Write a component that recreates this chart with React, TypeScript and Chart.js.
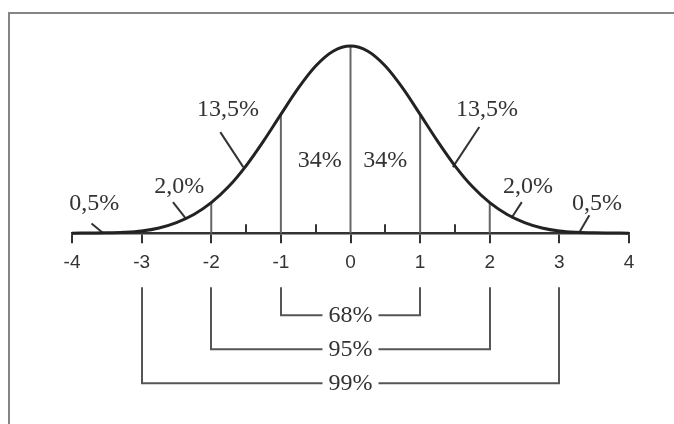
import React, { useEffect, useRef } from "react";
import { Chart, registerables } from "chart.js";

Chart.register(...registerables);

// Curve of the (normal) distribution: x in σ, height relative to peak
const curveX = [
  -4, -3.75, -3.5, -3.25, -3, -2.75, -2.5, -2.25, -2, -1.75, -1.5, -1.25, -1, -0.75, -0.5, -0.25,
  0, 0.25, 0.5, 0.75, 1, 1.25, 1.5, 1.75, 2, 2.25, 2.5, 2.75, 3, 3.25, 3.5, 3.75, 4,
];
const curveY = [
  0, 0.001, 0.002, 0.005, 0.012, 0.028, 0.057, 0.1, 0.163, 0.249, 0.36, 0.492, 0.635, 0.775, 0.893, 0.972,
  1, 0.972, 0.893, 0.775, 0.635, 0.492, 0.36, 0.249, 0.163, 0.1, 0.057, 0.028, 0.012, 0.005, 0.002, 0.001, 0,
];

// Vertical divider lines under the curve
const dividerX = [-2, -1, 0, 1, 2];

// Axis ticks
const tickValues = [-4, -3, -2, -1, 0, 1, 2, 3, 4];
const tickLabels = ["-4", "-3", "-2", "-1", "0", "1", "2", "3", "4"];
const minorTickX = [-1.5, -0.5, 0.5, 1.5];

// Area percentage labels (centre, in data units)
const areaLabels = ["0,5%", "2,0%", "13,5%", "34%", "34%", "13,5%", "2,0%", "0,5%"];
const areaLabelX = [-3.68, -2.46, -1.76, -0.44, 0.5, 1.96, 2.55, 3.54];
const areaLabelY = [0.155, 0.251, 0.658, 0.385, 0.385, 0.658, 0.246, 0.16];

// Leader lines from labels to the curve
const leaderFromX = [-3.72, -2.55, -1.87, 1.85, 2.46, 3.43];
const leaderFromY = [0.052, 0.166, 0.54, 0.567, 0.166, 0.096];
const leaderToX = [-3.55, -2.37, -1.54, 1.47, 2.31, 3.28];
const leaderToY = [0, 0.08, 0.353, 0.353, 0.08, 0];

// Interval brackets under the axis
const intervalLabels = ["68%", "95%", "99%"];
const intervalHalfWidth = [1, 2, 3];

const SERIF = '"Liberation Serif", "Times New Roman", serif';
const SANS = '"Liberation Sans", Arial, sans-serif';

const heightAt = (x: number) => curveY[curveX.indexOf(x)];

const decorPlugin = {
  id: "decor",
  beforeDraw(chart: any) {
    const ctx = chart.ctx;
    ctx.save();
    ctx.strokeStyle = "#858585";
    ctx.lineWidth = 2;
    ctx.beginPath();
    ctx.moveTo(9, chart.height);
    ctx.lineTo(9, 13);
    ctx.lineTo(chart.width, 13);
    ctx.stroke();
    ctx.restore();
  },
  afterDatasetsDraw(chart: any) {
    const ctx = chart.ctx;
    const xs = chart.scales.x;
    const ys = chart.scales.y;
    const y0 = ys.getPixelForValue(0);
    ctx.save();
    // minor ticks (upwards)
    ctx.strokeStyle = "#333";
    ctx.lineWidth = 2;
    ctx.beginPath();
    minorTickX.forEach((v) => {
      const px = Math.round(xs.getPixelForValue(v));
      ctx.moveTo(px, y0);
      ctx.lineTo(px, y0 - 9);
    });
    ctx.stroke();

    // area labels
    ctx.fillStyle = "#333";
    ctx.font = `24px ${SERIF}`;
    ctx.textAlign = "center";
    ctx.textBaseline = "middle";
    areaLabels.forEach((t, i) => {
      ctx.fillText(t, xs.getPixelForValue(areaLabelX[i]), ys.getPixelForValue(areaLabelY[i]));
    });

    // interval brackets
    const top = y0 + 54;
    const rowY = [y0 + 82, y0 + 116, y0 + 150];
    const cx = xs.getPixelForValue(0);
    ctx.strokeStyle = "#555";
    ctx.lineWidth = 2;
    intervalLabels.forEach((t, i) => {
      const l = Math.round(xs.getPixelForValue(-intervalHalfWidth[i]));
      const r = Math.round(xs.getPixelForValue(intervalHalfWidth[i]));
      const y = rowY[i];
      const tw = ctx.measureText(t).width;
      ctx.beginPath();
      ctx.moveTo(l, top);
      ctx.lineTo(l, y);
      ctx.lineTo(cx - tw / 2 - 6, y);
      ctx.moveTo(cx + tw / 2 + 6, y);
      ctx.lineTo(r, y);
      ctx.lineTo(r, top);
      ctx.stroke();
      ctx.fillText(t, cx, y + 1);
    });
    ctx.restore();
  },
};

export default function App() {
  const ref = useRef<HTMLCanvasElement | null>(null);

  useEffect(() => {
    if (!ref.current) return;
    const datasets: any[] = [
      {
        data: curveX.map((x, i) => ({ x, y: curveY[i] })),
        borderColor: "#222",
        borderWidth: 3,
        pointRadius: 0,
        cubicInterpolationMode: "monotone",
        clip: false,
      },
    ];
    leaderFromX.forEach((_, i) => {
      datasets.push({
        data: [
          { x: leaderFromX[i], y: leaderFromY[i] },
          { x: leaderToX[i], y: leaderToY[i] },
        ],
        borderColor: "#333",
        borderWidth: 2,
        pointRadius: 0,
        clip: false,
      });
    });
    dividerX.forEach((x) => {
      datasets.push({
        data: [
          { x, y: 0 },
          { x, y: heightAt(x) },
        ],
        borderColor: "#666",
        borderWidth: 2,
        pointRadius: 0,
        clip: false,
      });
    });

    const chart = new Chart(ref.current, {
      type: "line",
      data: { datasets },
      options: {
        animation: false,
        responsive: false,
        events: [],
        layout: { padding: { left: 72, right: 45, top: 46, bottom: 142 } },
        plugins: { legend: { display: false }, tooltip: { enabled: false } },
        scales: {
          x: {
            type: "linear",
            min: -4,
            max: 4,
            position: "bottom",
            border: { display: true, color: "#333", width: 2.5 },
            grid: { display: true, drawOnChartArea: false, drawTicks: true, tickLength: 10, color: "#333", lineWidth: 2 },
            afterBuildTicks: (scale: any) => {
              scale.ticks = tickValues.map((v) => ({ value: v }));
            },
            ticks: {
              autoSkip: false,
              maxRotation: 0,
              padding: 8,
              color: "#333",
              font: { family: SANS, size: 19 },
              callback: (v: any) => tickLabels[tickValues.indexOf(Number(v))],
            },
          },
          y: { type: "linear", display: false, min: 0, max: 1 },
        },
      },
      plugins: [decorPlugin],
    } as any);
    return () => chart.destroy();
  }, []);

  return (
    <div style={{ position: "fixed", left: 0, top: 0, width: 674, height: 424, background: "#fff" }}>
      <canvas ref={ref} width={674} height={424} style={{ display: "block" }} />
    </div>
  );
}
